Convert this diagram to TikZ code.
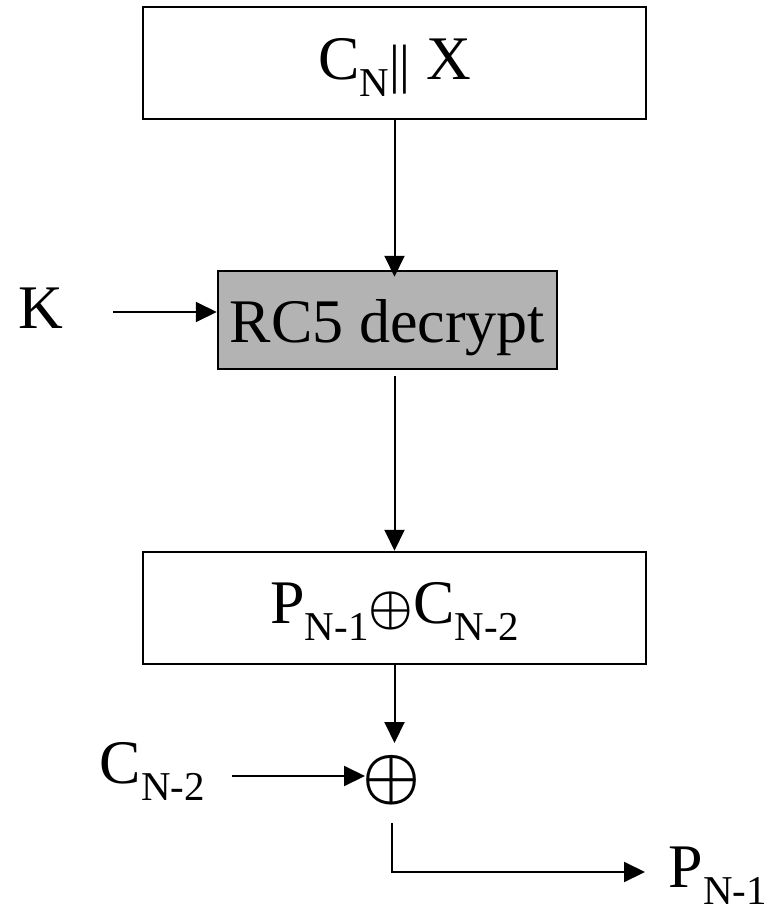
\documentclass[tikz,border=0pt]{standalone}
\usepackage{graphicx}
\usepackage{fontspec}
\setmainfont{Liberation Serif}
\usetikzlibrary{arrows.meta,calc}
\definecolor{boxgray}{HTML}{B3B3B3}
\newcommand{\bigtxt}{\fontsize{62}{62}\selectfont}
\newcommand{\sbs}[1]{\raisebox{-17pt}{\fontsize{41}{41}\selectfont #1}}
\newcommand{\xorsym}[1]{\scalebox{#1}{\fontsize{10}{10}\selectfont\boldmath$\oplus$}}
\begin{document}
\begin{tikzpicture}[x=1pt,y=-1pt,
  box/.style={draw, line width=2.5pt, rectangle, inner sep=0pt, font=\bigtxt},
  lbl/.style={inner sep=0pt, anchor=base, font=\bigtxt},
  arr/.style={line width=2pt, -{Triangle[length=21pt,width=20pt]}},
  ln/.style={line width=2pt}]
\useasboundingbox (0,0) rectangle (778,912);
% boxes
\node[box, minimum width=503pt, minimum height=112pt, text height=50pt, text depth=16pt] (top) at (394.5,63)
  {C\sbs{N}\raisebox{-3pt}{\fontsize{54}{54}\selectfont||} X};
\node[box, fill=boxgray, minimum width=339pt, minimum height=98pt, text height=56pt, text depth=12pt] (rc5) at (387.5,320)
  {RC5 decrypt};
\node[box, minimum width=503pt, minimum height=112pt, text height=46pt, text depth=16pt] (box2) at (394.5,608)
  {P\sbs{N-1}\xorsym{5.0}C\sbs{N-2}};
% labels
\node[lbl] (K) at (40.5,328) {K};
\node[lbl] (cn2) at (152.5,783) {C\sbs{N-2}};
\node[lbl] (pn1) at (718,887) {P\sbs{N-1}};
\node[inner sep=0pt] (xor) at (392,780) {\xorsym{6.5}};
% free ends
\coordinate (kin) at (113,312);
\coordinate (cin) at (232,776);
\coordinate (pin) at (645,872);
% connectors
\draw[arr] (top.south) -- ($(rc5.north -| top.south)+(0,7)$);
\draw[arr] ($(rc5.south -| box2.north)+(0,6)$) -- (box2.north);
\draw[arr] (kin) -- (kin -| rc5.west);
\draw[arr, shorten >=37pt] (box2.south) -- (box2.south |- xor.center);
\draw[arr, shorten >=27pt] (cin) -- (cin -| xor.center);
\draw[arr, shorten <=43pt] (xor.center) |- (pin);
\end{tikzpicture}
\end{document}
